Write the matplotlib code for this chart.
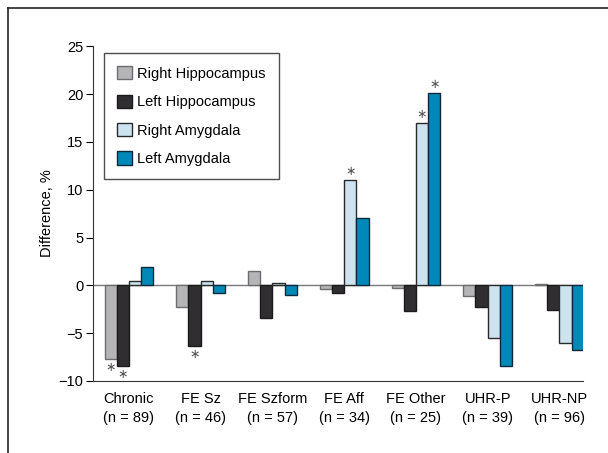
import numpy as np
import matplotlib
matplotlib.use('Agg')
import matplotlib.pyplot as plt
from matplotlib.lines import Line2D

plt.rcParams['font.family'] = ['Liberation Sans Narrow', 'Liberation Sans', 'DejaVu Sans']

categories = ['Chronic\n(n = 89)', 'FE Sz\n(n = 46)', 'FE Szform\n(n = 57)', 'FE Aff\n(n = 34)',
              'FE Other\n(n = 25)', 'UHR-P\n(n = 39)', 'UHR-NP\n(n = 96)']
series_names = ['Right Hippocampus', 'Left Hippocampus', 'Right Amygdala', 'Left Amygdala']
right_hipp = [-7.7, -2.3, 1.5, -0.35, -0.25, -1.1, 0.1]
left_hipp = [-8.45, -6.35, -3.45, -0.8, -2.7, -2.3, -2.6]
right_amyg = [0.5, 0.45, 0.25, 11.0, 16.95, -5.5, -6.05]
left_amyg = [1.95, -0.8, -1.05, 7.0, 20.1, -8.45, -6.75]
colors = ['#b5b5b7', '#302e31', '#cde4f0', '#0089b8']
edges = ['#6d6d6d', '#1a1a1a', '#2a2a2a', '#0d2a3a']

# significant bars: (category index, series index)
stars = [(0, 0), (0, 1), (1, 1), (3, 2), (4, 2), (4, 3)]

fig = plt.figure(figsize=(6.08, 4.53), dpi=100)
ax = fig.add_axes([0.153, 0.159, 0.806, 0.739])

x = np.arange(len(categories))
w = 0.17
data = [right_hipp, left_hipp, right_amyg, left_amyg]
for k, vals in enumerate(data):
    ax.bar(x + (k - 1.5) * w, vals, w, color=colors[k], edgecolor=edges[k],
           linewidth=1.0, label=series_names[k], zorder=3)

for i, k in stars:
    v = data[k][i]
    off = 0.9 if v > 0 else -0.9
    ax.text(x[i] + (k - 1.5) * w, v + off, '\u2217', ha='center', va='center',
            fontsize=9, color='#555555', family='DejaVu Sans')

ax.axhline(0, color='#7a7a7a', linewidth=1.0, zorder=2)
ax.set_ylim(-10, 25)
ax.set_xlim(-0.5, 6.33)
ax.set_yticks([-10, -5, 0, 5, 10, 15, 20, 25])
ax.set_yticklabels(['\u221210', '\u22125', '0', '5', '10', '15', '20', '25'])
ax.set_xticks(x)
ax.set_xticklabels(categories, fontsize=10.5, linespacing=1.45)
ax.tick_params(axis='x', length=0, pad=8)
ax.tick_params(axis='y', direction='out', length=5, labelsize=10.5, width=0.8, pad=2)
for s in ['top', 'right']:
    ax.spines[s].set_visible(False)
ax.spines['left'].set_color('#333333')
ax.spines['bottom'].set_color('#333333')
ax.set_ylabel('Difference, %', fontsize=10.5, labelpad=3)

leg = ax.legend(loc='upper left', bbox_to_anchor=(0.022, 0.979), borderaxespad=0,
                fontsize=10.5, frameon=True, fancybox=False, edgecolor='#222222',
                handlelength=1.0, handleheight=1.0, handletextpad=0.4,
                borderpad=0.9, labelspacing=0.95)
leg.get_frame().set_linewidth(1.0)

# outer frame of the figure panel
fig.add_artist(Line2D([8 / 608, 8 / 608], [0, 1 - 8 / 453], color='#222222', linewidth=1.2))
fig.add_artist(Line2D([8 / 608, 1], [1 - 8 / 453, 1 - 8 / 453], color='#222222', linewidth=1.2))

fig.savefig('out.png', dpi=100)
